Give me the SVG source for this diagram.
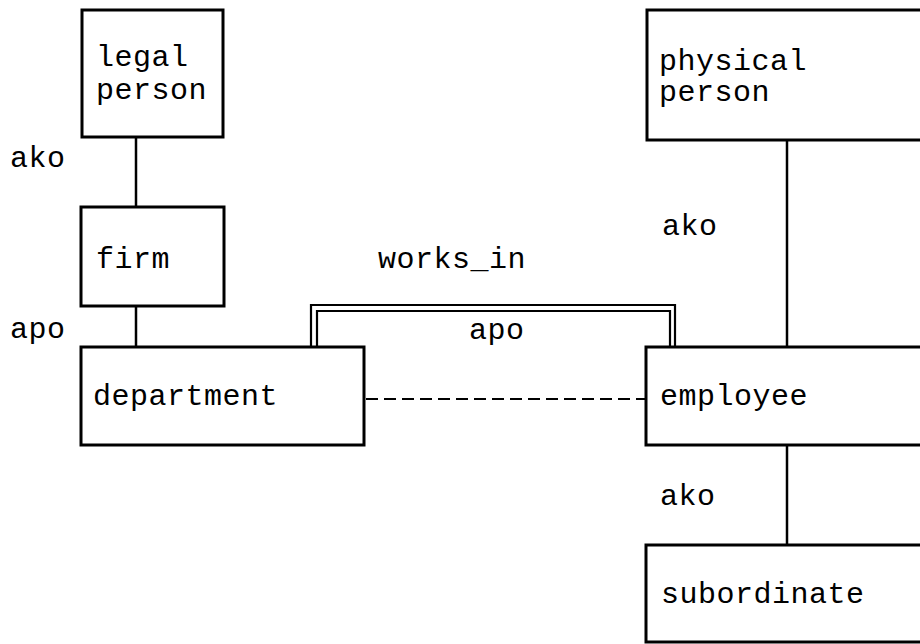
<svg xmlns="http://www.w3.org/2000/svg" width="920" height="644" viewBox="0 0 920 644">
<style>
.box{fill:#fff;stroke:#000;stroke-width:3}
.ln{fill:none;stroke:#000;stroke-width:2.5}
.dbl{fill:none;stroke:#000;stroke-width:2.2}
.dash{fill:none;stroke:#000;stroke-width:2.2;stroke-dasharray:12 6}
text{font-family:"Liberation Mono","Courier New",monospace;font-size:30px;letter-spacing:0.5px;fill:#000}
</style>
<rect width="920" height="644" fill="#fff"/>
<g id="connectors">
<line class="ln" x1="136" y1="137" x2="136" y2="207"/>
<line class="ln" x1="136" y1="306" x2="136" y2="347"/>
<line class="ln" x1="787" y1="140" x2="787" y2="347"/>
<line class="ln" x1="787" y1="445" x2="787" y2="545"/>
<polyline class="dbl" points="311,347 311,305 675,305 675,347"/>
<polyline class="dbl" points="317,347 317,311 670,311 670,347"/>
<line class="dash" x1="366" y1="399" x2="645" y2="399"/>
<text x="10" y="167">ako</text>
<text x="10" y="338">apo</text>
<text x="378" y="268">works_in</text>
<text x="469" y="339">apo</text>
<text x="662" y="235">ako</text>
<text x="660" y="505">ako</text>
</g>
<g id="legal_person">
<rect class="box" x="82" y="10" width="141" height="127"/>
<text x="96" y="66">legal</text>
<text x="96" y="99">person</text>
</g>
<g id="firm">
<rect class="box" x="81" y="207" width="143" height="99"/>
<text x="96" y="268">firm</text>
</g>
<g id="department">
<rect class="box" x="81" y="347" width="283" height="98"/>
<text x="93" y="405">department</text>
</g>
<g id="physical_person">
<rect class="box" x="647" y="10" width="290" height="130"/>
<text x="659" y="70">physical</text>
<text x="659" y="101">person</text>
</g>
<g id="employee">
<rect class="box" x="646" y="347" width="290" height="98"/>
<text x="660" y="405">employee</text>
</g>
<g id="subordinate">
<rect class="box" x="646" y="545" width="290" height="97"/>
<text x="661" y="603">subordinate</text>
</g>
</svg>
